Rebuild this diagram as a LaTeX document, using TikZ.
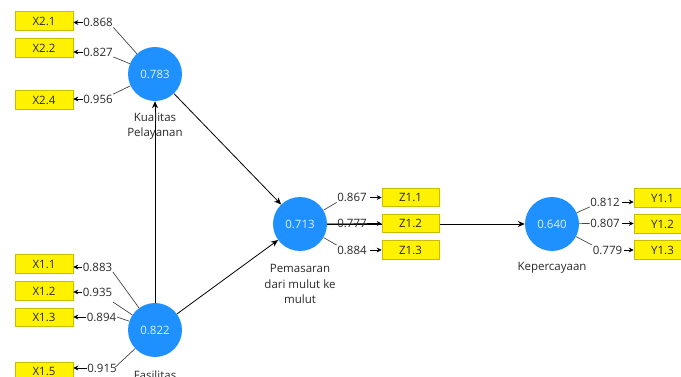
\documentclass[tikz,border=0pt]{standalone}
\usepackage{fontspec}
\setmainfont{Open Sans}
\usetikzlibrary{arrows.meta,backgrounds}
\definecolor{plsblue}{RGB}{30,144,255}
\definecolor{boxline}{RGB}{200,190,0}
\definecolor{txt}{RGB}{40,40,40}
\definecolor{lline}{RGB}{70,70,70}
\tikzset{
  lv/.style={circle,fill=plsblue,minimum size=54pt,inner sep=0pt,text={rgb,255:red,225;green,240;blue,255},font=\fontsize{11.5}{14}\selectfont},
  ind/.style={rectangle,fill=yellow,draw=boxline,line width=0.6pt,minimum width=58pt,minimum height=18.5pt,inner sep=0pt,text=txt,font=\fontsize{11.5}{14}\selectfont},
  ld/.style={inner sep=0.5pt,text=txt,font=\fontsize{11.5}{14}\selectfont},
  lvname/.style={align=center,text=txt,font=\fontsize{11.5}{15.5}\selectfont},
  path/.style={draw=black,line width=0.8pt,-{Stealth[length=7pt,width=6pt]}},
  load/.style={draw=lline,line width=0.7pt},
  loadarr/.style={draw=black,line width=0.8pt,-{Stealth[length=5pt,width=5pt]}}
}
\begin{document}
\begin{tikzpicture}[x=1pt,y=-1pt]
\useasboundingbox (0,0) rectangle (681,377);
\clip (0,0) rectangle (681,377);
% latent variables
\node[lv] (K) at (155,74) {0.783};
\node[lv] (F) at (155,330) {0.822};
\node[lv] (P) at (300,224) {0.713};
\node[lv] (C) at (552,224) {0.640};
% names
\node[lvname] (Kn) at (155,126) {Kualitas\\Pelayanan};
\node[lvname] (Fn) at (155,375) {Fasilitas};
\node[lvname] (Pn) at (300,284) {Pemasaran\\dari mulut ke\\mulut};
\node[lvname] (Cn) at (552,268) {Kepercayaan};
% indicators
\node[ind] (x21) at (44,21) {X2.1};
\node[ind] (x22) at (44,48) {X2.2};
\node[ind] (x24) at (44,100) {X2.4};
\node[ind] (x11) at (44,264) {X1.1};
\node[ind] (x12) at (44,291) {X1.2};
\node[ind] (x13) at (44,317.5) {X1.3};
\node[ind] (x15) at (44,371.5) {X1.5};
\node[ind,minimum width=57pt] (z11) at (410.5,197.5) {Z1.1};
\node[ind,minimum width=57pt] (z12) at (410.5,223.5) {Z1.2};
\node[ind,minimum width=57pt] (z13) at (410.5,250) {Z1.3};
\node[ind,minimum width=57pt] (y11) at (662.5,198) {Y1.1};
\node[ind,minimum width=57pt] (y12) at (662.5,224) {Y1.2};
\node[ind,minimum width=57pt] (y13) at (662.5,250) {Y1.3};
% loading labels
\node[ld] (l21) at (98,22.5) {0.868};
\node[ld] (l22) at (98,52) {0.827};
\node[ld] (l24) at (98,99) {0.956};
\node[ld] (l11) at (97.5,267) {0.883};
\node[ld] (l12) at (97.5,292) {0.935};
\node[ld] (l13) at (101.5,317) {0.894};
\node[ld] (l15) at (102,368) {0.915};
\node[ld] (lz1) at (352,197.5) {0.867};
\node[ld] (lz2) at (352,223.5) {0.777};
\node[ld] (lz3) at (352,250) {0.884};
\node[ld] (ly1) at (605,202) {0.812};
\node[ld] (ly2) at (605,223.5) {0.807};
\node[ld] (ly3) at (607.5,250) {0.779};
\begin{pgfonlayer}{background}
% structural paths
\draw[path] (F) -- (K);
\draw[path] (K) -- (P);
\draw[path] (F) -- (P);
\draw[path] (P) -- (C);
% loadings: circle to label
\draw[load] (K) -- (l21.south east);
\draw[load] (K) -- (l22.south east);
\draw[load] (K) -- (l24.north east);
\draw[load] (F) -- (l11.south east);
\draw[load] (F) -- ([yshift=-5pt]l12.south east);
\draw[load] (F) -- (l13.east);
\draw[load] (F) -- ([shift={(-2pt,-4pt)}]l15.north east);
\draw[load] (P) -- (lz1.south west);
\draw[load] (P) -- (lz2.east);
\draw[load] (P) -- (lz3.north west);
\draw[load] (C) -- (ly1.south west);
\draw[load] (C) -- (ly2.west);
\draw[load] (C) -- (ly3.north west);
\end{pgfonlayer}
% label to indicator arrows
\draw[loadarr] (l21.west) -- (l21.west -| x21.east);
\draw[loadarr] (l22.west) -- (l22.west -| x22.east);
\draw[loadarr] (l24.west) -- (l24.west -| x24.east);
\draw[loadarr] (l11.west) -- (l11.west -| x11.east);
\draw[loadarr] (l12.west) -- (l12.west -| x12.east);
\draw[loadarr] (l13.west) -- (l13.west -| x13.east);
\draw[loadarr] (l15.west) -- (l15.west -| x15.east);
\draw[loadarr] ([xshift=3pt]lz1.east) -- (lz1.east -| z11.west);
\draw[loadarr] (lz2.east) -- (lz2.east -| z12.west);
\draw[loadarr] ([xshift=3pt]lz3.east) -- (lz3.east -| z13.west);
\draw[loadarr] ([xshift=2pt]ly1.east) -- (ly1.east -| y11.west);
\draw[loadarr] ([xshift=2pt]ly2.east) -- (ly2.east -| y12.west);
\draw[loadarr] ([xshift=1pt]ly3.east) -- (ly3.east -| y13.west);
\end{tikzpicture}
\end{document}
